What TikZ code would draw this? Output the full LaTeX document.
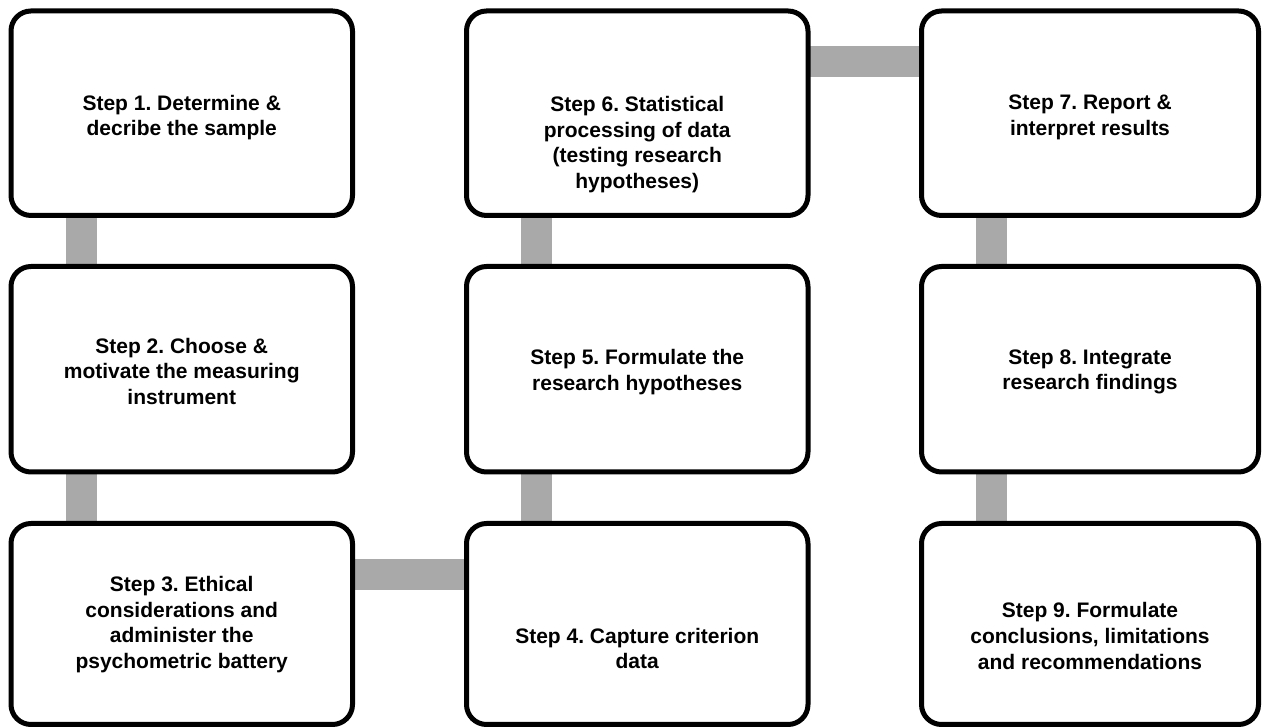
\documentclass[tikz,border=0pt]{standalone}
\usepackage{fontspec}
\setmainfont{Liberation Sans}
\usetikzlibrary{calc,backgrounds}
\begin{document}
\frenchspacing
\begin{tikzpicture}[x=1pt,y=1pt,
  stepbox/.style={draw=black, line width=5pt, rounded corners=20pt, fill=white,
    outer sep=0pt, inner sep=0pt},
  steptext/.style={align=center, inner sep=0pt,
    font=\fontsize{21}{25.5}\selectfont\bfseries},
  link/.style={draw={rgb,255:red,169;green,169;blue,169}, line width=31pt, line cap=butt}]
\useasboundingbox (0,0) rectangle (1264,727);

% step boxes
\node[stepbox, minimum width=341.5pt, minimum height=204.5pt] (s1) at (181.75,613.75) {};
\node[stepbox, minimum width=341.5pt, minimum height=205.5pt] (s2) at (181.75,357.75) {};
\node[stepbox, minimum width=341.5pt, minimum height=201pt]   (s3) at (181.75,103) {};
\node[stepbox, minimum width=341.5pt, minimum height=201pt]   (s4) at (637.25,103) {};
\node[stepbox, minimum width=341.5pt, minimum height=205.5pt] (s5) at (637.25,357.75) {};
\node[stepbox, minimum width=341.5pt, minimum height=204.5pt] (s6) at (637.25,613.75) {};
\node[stepbox, minimum width=337pt, minimum height=204.5pt]   (s7) at (1090,613.75) {};
\node[stepbox, minimum width=337pt, minimum height=205.5pt]   (s8) at (1090,357.75) {};
\node[stepbox, minimum width=337pt, minimum height=201pt]     (s9) at (1090,103) {};

% step texts
\node[steptext] (t1) at (181.75,609.5) {Step 1. Determine \&\\decribe the sample};
\node[steptext] (t2) at (181.75,355.5) {Step 2. Choose \&\\motivate the measuring\\instrument};
\node[steptext] (t3) at (181.75,102.5) {Step 3. Ethical\\considerations and\\administer the\\psychometric battery};
\node[steptext] (t4) at (637.25,78.5) {Step 4. Capture criterion\\data};
\node[steptext] (t5) at (637.25,355) {Step 5. Formulate the\\research hypotheses};
\node[steptext] (t6) at (637.25,582.5) {Step 6. Statistical\\processing of data\\(testing research\\hypotheses)};
\node[steptext] (t7) at (1090,609.5) {Step 7. Report \&\\interpret results};
\node[steptext] (t8) at (1090,355) {Step 8. Integrate\\research findings};
\node[steptext] (t9) at (1090,91) {Step 9. Formulate\\conclusions, limitations\\and recommendations};

% grey links between consecutive steps, behind the boxes
\begin{scope}[on background layer]
  \draw[link] ($(s1.south west)+(70.5,0)$) -- ($(s2.north west)+(70.5,0)$);
  \draw[link] ($(s2.south west)+(70.5,0)$) -- ($(s3.north west)+(70.5,0)$);
  \draw[link] ($(s3.north east)+(0,-51)$) -- ($(s4.north west)+(0,-51)$);
  \draw[link] ($(s4.north west)+(70,0)$) -- ($(s5.south west)+(70,0)$);
  \draw[link] ($(s5.north west)+(70,0)$) -- ($(s6.south west)+(70,0)$);
  \draw[link] ($(s6.north east)+(0,-50.5)$) -- ($(s7.north west)+(0,-50.5)$);
  \draw[link] ($(s7.south west)+(70,0)$) -- ($(s8.north west)+(70,0)$);
  \draw[link] ($(s8.south west)+(70,0)$) -- ($(s9.north west)+(70,0)$);
\end{scope}
\end{tikzpicture}
\end{document}
